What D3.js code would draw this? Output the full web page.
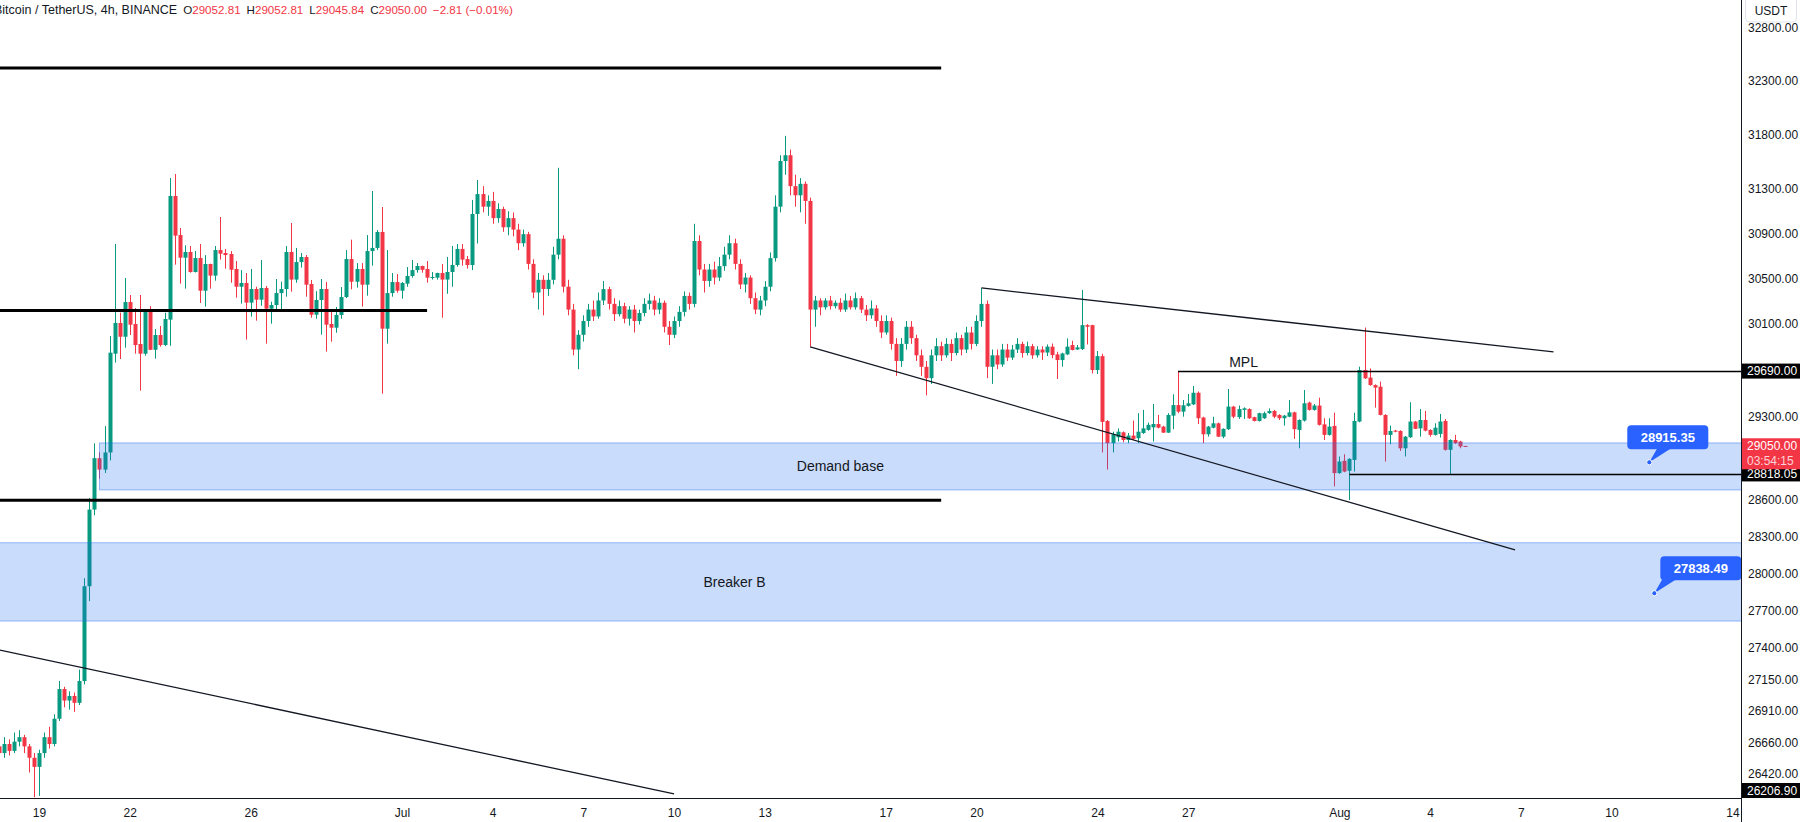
<!DOCTYPE html>
<html>
<head>
<meta charset="utf-8">
<script src="https://cdn.jsdelivr.net/npm/d3@7"></script>
<style>
  body { margin: 0; background: #fff; }
  svg { display: block; font-family: "Liberation Sans", Arial, sans-serif; }
</style>
</head>
<body>
<script>
// ---- data: BTC/USDT 4h candles, first candle 2023-06-17 16:00 UTC ----
var firstCandle = Date.UTC(2023, 5, 17, 16);

var opens = [
  26630, 26578, 26648, 26595, 26666, 26701, 26630, 26542,   // Jun 17-18
  26472, 26578, 26701, 26648, 26844, 27076,   // Jun 19
  26986, 27022, 26968, 27139, 27895, 28522,   // Jun 20
  28950, 28854, 28998, 29840, 30107, 29987,   // Jun 21
  30290, 30098, 29924, 29840, 30214, 29874,   // Jun 22
  30002, 29915, 30136, 31236, 30884, 30682,   // Jun 23
  30733, 30555, 30679, 30390, 30626, 30523,   // Jun 24
  30750, 30724, 30715, 30582, 30425, 30458,   // Jun 25
  30285, 30405, 30311, 30414, 30232, 30264,   // Jun 26
  30369, 30405, 30733, 30488, 30643, 30688,   // Jun 27
  30449, 30179, 30308, 30405, 30098, 30066,   // Jun 28
  30177, 30334, 30670, 30469, 30582, 30443,   // Jun 29
  30741, 30769, 30912, 30057, 30369, 30466,   // Jun 30
  30390, 30452, 30520, 30572, 30608, 30582,   // Jul 1
  30505, 30505, 30546, 30488, 30555, 30617,   // Jul 2
  30760, 30670, 30617, 31073, 31253, 31139,   // Jul 3
  31191, 31036, 31118, 30954, 31036, 30933,   // Jul 4
  30811, 30892, 30627, 30374, 30486, 30405,   // Jul 5
  30486, 30709, 30851, 30425, 30224, 29876,   // Jul 6
  30004, 30124, 30224, 30164, 30304, 30404,   // Jul 7
  30274, 30184, 30254, 30144, 30224, 30124,   // Jul 8
  30194, 30274, 30304, 30224, 30284, 30074,   // Jul 9
  30004, 30124, 30204, 30344, 30274, 30831,   // Jul 10
  30577, 30476, 30577, 30506, 30607, 30709,   // Jul 11
  30811, 30627, 30445, 30506, 30324, 30224,   // Jul 12
  30304, 30425, 30678, 31139, 31554, 31607,   // Jul 13
  31325, 31242, 31346, 31191, 30224, 30304,   // Jul 14
  30244, 30304, 30254, 30284, 30224, 30304,   // Jul 15
  30244, 30324, 30224, 30174, 30234, 30124,   // Jul 16
  30024, 30124, 29925, 29777, 29925, 30074,   // Jul 17
  29975, 29826, 29727, 29629, 29826, 29905,   // Jul 18
  29826, 29925, 29846, 29975, 29876, 30024,   // Jul 19
  29925, 30124, 30274, 29727, 29826, 29747,   // Jul 20
  29876, 29806, 29876, 29925, 29846, 29905,   // Jul 21
  29826, 29876, 29850, 29901, 29834, 29785,   // Jul 22
  29834, 29915, 29877, 29880, 30088, 30088,   // Jul 23
  29699, 29819, 29263, 29076, 29126, 29168,   // Jul 24
  29103, 29140, 29118, 29162, 29188, 29210,   // Jul 25
  29238, 29216, 29165, 29309, 29399, 29343,   // Jul 26
  29392, 29405, 29504, 29293, 29151, 29207,   // Jul 27
  29244, 29131, 29194, 29386, 29296, 29358,   // Jul 28
  29365, 29296, 29264, 29287, 29330, 29349,   // Jul 29
  29315, 29287, 29300, 29337, 29188, 29267,   // Jul 30
  29420, 29358, 29395, 29235, 29146, 29222,   // Jul 31
  28825, 28928, 28844, 28935, 29259, 29699,   // Aug 1
  29634, 29570, 29556, 29315, 29146, 29182,   // Aug 2
  29179, 29033, 29126, 29259, 29201, 29272,   // Aug 3
  29188, 29146, 29154, 29264, 29020, 29103,   // Aug 4
  29090, 29052.81                             // Aug 5
];

var highs = [
  26666, 26701, 26684, 26737, 26755, 26719, 26648, 26578,
  26604, 26737, 26782, 26879, 27139, 27094,
  27058, 27049, 27229, 27960, 28617, 29075,
  28998, 29220, 29993, 30804, 30197, 30502,
  30352, 30238, 30352, 30226, 30255, 30054,
  30080, 30197, 31399, 31435, 30947, 30792,
  30786, 30741, 30804, 30705, 30629, 30786,
  31046, 30760, 30741, 30652, 30572, 30546,
  30582, 30425, 30662, 30431, 30293, 30493,
  30470, 30786, 30992, 30769, 30724, 30706,
  30485, 30386, 30493, 30466, 30212, 30247,
  30422, 30750, 30843, 30634, 30634, 30884,
  31281, 30929, 31136, 30750, 30546, 30537,
  30466, 30599, 30662, 30634, 30611, 30652,
  30555, 30549, 30626, 30688, 30786, 30804,
  30804, 30697, 31200, 31381, 31325, 31242,
  31273, 31170, 31139, 31098, 31087, 30985,
  30933, 30913, 30668, 30546, 30526, 30546,
  30780, 31492, 30882, 30486, 30274, 30044,
  30174, 30274, 30304, 30374, 30475, 30425,
  30324, 30304, 30284, 30254, 30264, 30224,
  30324, 30364, 30344, 30324, 30304, 30124,
  30164, 30254, 30384, 30374, 30985, 30882,
  30627, 30627, 30647, 30688, 30780, 30882,
  30852, 30668, 30546, 30526, 30374, 30344,
  30475, 30729, 31242, 31607, 31785, 31659,
  31429, 31398, 31367, 31221, 30344, 30324,
  30324, 30344, 30304, 30324, 30364, 30344,
  30374, 30344, 30264, 30304, 30264, 30174,
  30174, 30154, 29975, 29975, 30124, 30124,
  30004, 29876, 29777, 29876, 29975, 29945,
  29975, 29965, 30024, 30004, 30074, 30074,
  30174, 30415, 30304, 29876, 29876, 29925,
  29925, 29915, 29975, 29945, 29945, 29925,
  29905, 29905, 29920, 29928, 29857, 29849,
  29973, 29952, 29915, 30397, 30097, 30092,
  29863, 29839, 29272, 29173, 29201, 29175,
  29162, 29267, 29330, 29358, 29250, 29408,
  29315, 29222, 29330, 29491, 29690, 29442,
  29494, 29562, 29515, 29300, 29222, 29300,
  29250, 29201, 29536, 29392, 29395, 29380,
  29371, 29300, 29334, 29343, 29371, 29358,
  29321, 29315, 29442, 29343, 29278, 29528,
  29428, 29408, 29462, 29287, 29287, 29334,
  28964, 28983, 28950, 29334, 29728, 30067,
  29713, 29576, 29600, 29321, 29225, 29188,
  29185, 29137, 29423, 29264, 29365, 29349,
  29194, 29244, 29324, 29281, 29109, 29146,
  29096, 29052.81
];

var lows = [
  26542, 26542, 26560, 26578, 26630, 26578, 26429, 26240,
  26250, 26542, 26613, 26630, 26826, 26933,
  26915, 26897, 26951, 27112, 27775, 28475,
  28778, 28826, 28931, 29763, 29794, 29892,
  30002, 29840, 29522, 29823, 29871, 29797,
  29901, 29906, 29909, 30620, 30452, 30408,
  30549, 30551, 30282, 30250, 30408, 30478,
  30665, 30585, 30460, 30328, 30276, 29962,
  30162, 30127, 30258, 29927, 30101, 30223,
  30229, 30337, 30381, 30460, 30594, 30337,
  30153, 30144, 30005, 29858, 29944, 30022,
  30144, 30325, 30402, 30417, 30250, 30346,
  30611, 30750, 29496, 29927, 30337, 30372,
  30320, 30425, 30505, 30549, 30549, 30460,
  30488, 30488, 30153, 30363, 30425, 30602,
  30611, 30585, 30572, 30808, 31088, 31057,
  30985, 30995, 30913, 30882, 30872, 30749,
  30780, 30577, 30324, 30224, 30174, 30344,
  30445, 30668, 30374, 30174, 29826, 29707,
  29945, 30074, 30124, 30144, 30264, 30224,
  30124, 30164, 30104, 30084, 30024, 30094,
  30164, 30224, 30174, 30184, 30024, 29915,
  29975, 30074, 30164, 30224, 30244, 30526,
  30374, 30425, 30445, 30476, 30566, 30668,
  30577, 30405, 30374, 30274, 30184, 30174,
  30254, 30385, 30648, 31088, 31429, 31242,
  31139, 31088, 30985, 29900, 30074, 30174,
  30224, 30224, 30234, 30204, 30204, 30224,
  30224, 30194, 30124, 30144, 30074, 29975,
  30004, 29875, 29649, 29727, 29875, 29925,
  29777, 29649, 29482, 29580, 29777, 29777,
  29806, 29777, 29826, 29826, 29846, 29876,
  29905, 30074, 29629, 29580, 29707, 29727,
  29777, 29786, 29846, 29806, 29826, 29796,
  29806, 29786, 29820, 29800, 29622, 29728,
  29828, 29869, 29872, 29872, 29920, 29670,
  29665, 28998, 28855, 28998, 29090, 29084,
  29076, 29103, 29076, 29154, 29182, 29090,
  29201, 29162, 29162, 29194, 29330, 29300,
  29386, 29399, 29238, 29076, 29131, 29201,
  29127, 29118, 29188, 29287, 29281, 29281,
  29281, 29259, 29259, 29281, 29324, 29287,
  29272, 29225, 29296, 29112, 29033, 29259,
  29352, 29352, 29225, 29103, 29140, 28714,
  28819, 28832, 28601, 28838, 29253, 29622,
  29564, 29377, 29311, 28922, 29067, 29168,
  29011, 28964, 29121, 29195, 29131, 29176,
  29131, 29140, 29124, 29014, 28818.05, 29070,
  29033, 29045.84
];

var closes = [
  26578, 26648, 26595, 26666, 26701, 26630, 26542, 26472,
  26578, 26701, 26648, 26844, 27076, 26986,
  27022, 26968, 27139, 27895, 28522, 28950,
  28854, 28998, 29849, 30107, 29987, 30290,
  30092, 29915, 29840, 30214, 29874, 30002,
  29915, 30142, 31236, 30879, 30682, 30733,
  30555, 30679, 30390, 30626, 30523, 30750,
  30718, 30706, 30575, 30425, 30458, 30285,
  30405, 30311, 30414, 30232, 30264, 30369,
  30405, 30733, 30488, 30643, 30688, 30443,
  30179, 30308, 30405, 30092, 30066, 30177,
  30334, 30670, 30469, 30582, 30443, 30741,
  30769, 30912, 30057, 30369, 30466, 30390,
  30458, 30520, 30572, 30608, 30575, 30505,
  30511, 30546, 30488, 30555, 30617, 30760,
  30665, 30617, 31073, 31253, 31139, 31191,
  31036, 31118, 30954, 31036, 30933, 30811,
  30892, 30627, 30374, 30486, 30405, 30486,
  30709, 30851, 30425, 30224, 29876, 30004,
  30124, 30224, 30164, 30304, 30404, 30274,
  30184, 30254, 30144, 30224, 30124, 30194,
  30274, 30304, 30224, 30284, 30074, 30004,
  30124, 30204, 30344, 30274, 30831, 30577,
  30476, 30577, 30506, 30607, 30709, 30811,
  30627, 30445, 30506, 30324, 30224, 30304,
  30425, 30678, 31139, 31554, 31607, 31325,
  31242, 31346, 31191, 30224, 30304, 30244,
  30304, 30254, 30284, 30224, 30304, 30244,
  30324, 30224, 30174, 30234, 30124, 30024,
  30124, 29925, 29777, 29925, 30074, 29975,
  29826, 29727, 29629, 29826, 29905, 29826,
  29925, 29846, 29975, 29876, 30024, 29925,
  30124, 30274, 29727, 29826, 29747, 29876,
  29806, 29876, 29925, 29846, 29905, 29826,
  29876, 29850, 29901, 29828, 29785, 29842,
  29901, 29872, 29895, 30088, 30074, 29699,
  29819, 29256, 29076, 29151, 29173, 29103,
  29140, 29112, 29173, 29201, 29231, 29238,
  29207, 29165, 29315, 29399, 29343, 29397,
  29414, 29504, 29287, 29151, 29216, 29244,
  29131, 29197, 29386, 29300, 29365, 29371,
  29287, 29264, 29330, 29330, 29349, 29300,
  29287, 29309, 29337, 29194, 29272, 29414,
  29358, 29395, 29231, 29146, 29216, 28825,
  28922, 28838, 28944, 29264, 29699, 29628,
  29570, 29548, 29315, 29146, 29179, 29173,
  29033, 29131, 29259, 29197, 29272, 29182,
  29146, 29207, 29259, 29020, 29103, 29076,
  29049, 29050
];

// price axis ticks (as TradingView shows them, log scale)
var yTicks = [32800, 32300, 31800, 31300, 30900, 30500, 30100, 29300, 28600,
              28300, 28000, 27700, 27400, 27150, 26910, 26660, 26420];

// time axis ticks
var xTickDates = ["2023-06-19", "2023-06-22", "2023-06-26", "2023-07-01", "2023-07-04",
                  "2023-07-07", "2023-07-10", "2023-07-13", "2023-07-17", "2023-07-20",
                  "2023-07-24", "2023-07-27", "2023-08-01", "2023-08-04", "2023-08-07",
                  "2023-08-10", "2023-08-14"];
var xTickLabels = ["19", "22", "26", "Jul", "4", "7", "10", "13", "17", "20",
                   "24", "27", "Aug", "4", "7", "10", "14"];

// drawings: [startTime, startPrice, endTime, endPrice]
var thickLevels = [
  ["2023-06-17T00:00Z", 32416, "2023-07-18T20:00Z", 32416],
  ["2023-06-17T00:00Z", 30215, "2023-07-01T20:00Z", 30215],
  ["2023-06-17T00:00Z", 28600, "2023-07-18T20:00Z", 28600]
];
var trendLines = [
  ["2023-06-17T17:03Z", 27384, "2023-07-10T00:00Z", 26265],
  ["2023-07-20T04:00Z", 30414, "2023-08-08T02:00Z", 29855],
  ["2023-07-14T12:00Z", 29900, "2023-08-06T19:30Z", 28190]
];
var rays = [
  ["2023-07-26T16:00Z", 29690],
  ["2023-08-01T08:00Z", 28818.05]
];
var zones = [
  { name: "Demand base", from: "2023-06-21T00:00Z", top: 29078, bottom: 28685, labelAt: "2023-07-15T12:00Z" },
  { name: "Breaker B",   from: "2023-06-15T00:00Z", top: 28249, bottom: 27615, labelAt: "2023-07-12T00:00Z" }
];
var callouts = [
  ["2023-08-11T06:00Z", 28915.35],
  ["2023-08-11T10:00Z", 27838.49]
];
var axisTags = [29690, 28818.05, 26206.90];
var lastPrice = 29050.00, countdown = "03:54:15";

// ---- layout ----
var W = 1800, H = 822, plotW = 1741, plotH = 798;
var green = "#089981", red = "#f23645", ink = "#131722";
var calloutBoxDx = [-22, 6];   // box left edge relative to anchor dot

var svg = d3.select("body").append("svg")
    .attr("width", W).attr("height", H);

var x = d3.scaleUtc()
    .domain([new Date(Date.UTC(2023, 5, 17, 17, 3)), new Date(Date.UTC(2023, 7, 14, 6, 47))])
    .range([0, plotW]);
var y = d3.scaleLog()
    .domain([26234.3, 33061.6])
    .range([plotH, 0]);

svg.append("defs").append("clipPath").attr("id", "plot")
  .append("rect").attr("width", plotW).attr("height", plotH);

var plot = svg.append("g").attr("clip-path", "url(#plot)");

var candles = opens.map(function(o, i) {
  return { t: new Date(firstCandle + i * 4 * 3600 * 1000), o: o, h: highs[i], l: lows[i], c: closes[i] };
});

// candles
var gc = plot.append("g");
gc.selectAll("line")
  .data(candles)
  .enter()
  .append("line")
    .attr("x1", function(d) { return Math.round(x(d.t)) + 0.5; })
    .attr("x2", function(d) { return Math.round(x(d.t)) + 0.5; })
    .attr("y1", function(d) { return y(d.h); })
    .attr("y2", function(d) { return y(d.l); })
    .attr("stroke", function(d) { return d.c >= d.o ? green : red; })
    .attr("stroke-width", 1);
gc.selectAll("rect")
  .data(candles)
  .enter()
  .append("rect")
    .attr("x", function(d) { return Math.round(x(d.t)) - 1.5; })
    .attr("width", 4)
    .attr("y", function(d) { return y(Math.max(d.o, d.c)); })
    .attr("height", function(d) { return Math.max(1, Math.abs(y(d.o) - y(d.c))); })
    .attr("fill", function(d) { return d.c >= d.o ? green : red; });

// zones
zones.forEach(function(z) {
  plot.append("rect")
    .attr("x", x(new Date(z.from)))
    .attr("y", y(z.top))
    .attr("width", plotW + 50 - x(new Date(z.from)))
    .attr("height", y(z.bottom) - y(z.top))
    .attr("fill", "rgba(33,110,240,0.24)")
    .attr("stroke", "rgba(33,110,240,0.45)")
    .attr("stroke-width", 1);
  plot.append("text")
    .attr("x", x(new Date(z.labelAt)))
    .attr("y", y(Math.sqrt(z.top * z.bottom)))
    .attr("dy", "0.35em")
    .attr("text-anchor", "middle")
    .attr("font-size", 14)
    .attr("fill", ink)
    .text(z.name);
});

// thick horizontal levels
thickLevels.forEach(function(l) {
  plot.append("line")
    .attr("x1", x(new Date(l[0]))).attr("y1", y(l[1]))
    .attr("x2", x(new Date(l[2]))).attr("y2", y(l[3]))
    .attr("stroke", "#000").attr("stroke-width", 3);
});

// trend lines
trendLines.forEach(function(l) {
  plot.append("line")
    .attr("x1", x(new Date(l[0]))).attr("y1", y(l[1]))
    .attr("x2", x(new Date(l[2]))).attr("y2", y(l[3]))
    .attr("stroke", ink).attr("stroke-width", 1.3);
});

// horizontal rays
rays.forEach(function(r) {
  plot.append("line")
    .attr("x1", x(new Date(r[0]))).attr("x2", plotW)
    .attr("y1", Math.round(y(r[1])) + 0.5).attr("y2", Math.round(y(r[1])) + 0.5)
    .attr("stroke", "#000").attr("stroke-width", 1.3);
});
plot.append("text")
  .attr("x", x(new Date("2023-07-28T20:00Z")))
  .attr("y", y(29690) - 4)
  .attr("text-anchor", "middle")
  .attr("font-size", 14)
  .attr("fill", ink)
  .text("MPL");

// price callouts
callouts.forEach(function(c, i) {
  var px = x(new Date(c[0])), py = y(c[1]);
  var bx = px + calloutBoxDx[i], by = py - 37, bw = 81, bh = 24;
  var g = plot.append("g");
  g.append("path")
    .attr("d", "M" + px + "," + py + "L" + (px + 8) + "," + (by + bh - 1) + "L" + (px + 22) + "," + (by + bh - 1) + "Z")
    .attr("fill", "#2962ff");
  g.append("rect")
    .attr("x", bx).attr("y", by).attr("width", bw).attr("height", bh).attr("rx", 4)
    .attr("fill", "#2962ff");
  g.append("text")
    .attr("x", bx + bw / 2).attr("y", by + bh / 2).attr("dy", "0.35em")
    .attr("text-anchor", "middle").attr("font-size", 13).attr("font-weight", "bold")
    .attr("fill", "#fff")
    .text(d3.format(".2f")(c[1]));
  g.append("circle")
    .attr("cx", px).attr("cy", py).attr("r", 2.6)
    .attr("fill", "#2962ff").attr("stroke", "#fff").attr("stroke-width", 1);
});

// ---- axes ----
var yAxis = d3.axisRight(y).tickValues(yTicks).tickSize(0).tickPadding(7)
    .tickFormat(d3.format(".2f"));
svg.append("g")
    .attr("transform", "translate(" + plotW + ",0)")
    .call(yAxis)
    .call(function(g) { g.select(".domain").remove(); })
    .attr("font-size", 12)
    .attr("font-family", "'Liberation Sans', Arial, sans-serif")
    .selectAll("text").attr("fill", ink);

var xAxis = d3.axisBottom(x)
    .tickValues(xTickDates.map(function(d) { return new Date(d + "T00:00Z"); }))
    .tickSize(0).tickPadding(10)
    .tickFormat(function(d, i) { return xTickLabels[i]; });
svg.append("g")
    .attr("transform", "translate(0," + plotH + ")")
    .call(xAxis)
    .call(function(g) { g.select(".domain").remove(); })
    .attr("font-size", 12)
    .attr("font-family", "'Liberation Sans', Arial, sans-serif")
    .selectAll("text").attr("fill", ink);

svg.append("line")
    .attr("x1", plotW + 0.5).attr("x2", plotW + 0.5).attr("y1", 0).attr("y2", H)
    .attr("stroke", ink).attr("stroke-width", 1);
svg.append("line")
    .attr("x1", 0).attr("x2", plotW).attr("y1", plotH + 0.5).attr("y2", plotH + 0.5)
    .attr("stroke", ink).attr("stroke-width", 1);

// axis tags (kept inside the pane like TradingView does)
axisTags.forEach(function(p) {
  var py = Math.min(y(p), plotH - 7.5);
  svg.append("rect").attr("x", plotW + 1).attr("y", py - 7.5).attr("width", W - plotW).attr("height", 15)
    .attr("fill", "#000");
  svg.append("text").attr("x", plotW + 6).attr("y", py).attr("dy", "0.35em")
    .attr("font-size", 12).attr("fill", "#fff").text(d3.format(".2f")(p));
});
var ly = y(lastPrice);
svg.append("rect").attr("x", plotW + 1).attr("y", ly - 8).attr("width", W - plotW).attr("height", 31)
  .attr("fill", red);
svg.append("text").attr("x", plotW + 6).attr("y", ly).attr("dy", "0.35em")
  .attr("font-size", 12).attr("fill", "#fff").text(d3.format(".2f")(lastPrice));
svg.append("text").attr("x", plotW + 6).attr("y", ly + 15).attr("dy", "0.35em")
  .attr("font-size", 12).attr("fill", "rgba(255,255,255,0.78)").text(countdown);

// currency box
svg.append("rect").attr("x", 1745.5).attr("y", -4).attr("width", 51).attr("height", 26).attr("rx", 4)
  .attr("fill", "#fff").attr("stroke", "#e0e3eb");
svg.append("text").attr("x", 1771).attr("y", 11).attr("dy", "0.35em").attr("text-anchor", "middle")
  .attr("font-size", 12).attr("fill", ink).text("USDT");

// header legend
var head = svg.append("text").attr("x", -6).attr("y", 10).attr("dy", "0.35em")
  .attr("font-size", 12.5).attr("fill", ink);
head.append("tspan").text("Bitcoin / TetherUS, 4h, BINANCE");
[["O", "29052.81"], ["H", "29052.81"], ["L", "29045.84"], ["C", "29050.00"]].forEach(function(p) {
  head.append("tspan").attr("dx", 6).attr("font-size", 11.6).text(p[0]);
  head.append("tspan").attr("fill", red).attr("font-size", 11.6).text(p[1]);
});
head.append("tspan").attr("dx", 6).attr("fill", red).attr("font-size", 11.6).text("\u22122.81 (\u22120.01%)");
</script>
</body>
</html>
